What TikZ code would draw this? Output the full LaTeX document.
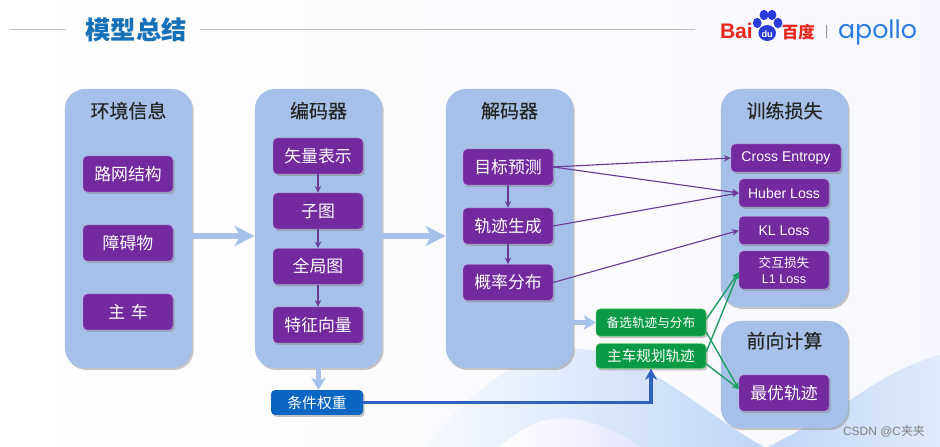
\documentclass[tikz,border=0pt]{standalone}
\usepackage{fontspec}
\setmainfont{Liberation Sans}
\newfontfamily\cjk{Noto Sans CJK SC}
\newfontfamily\cjkheavy[FakeBold=0.35]{Noto Sans CJK SC}
\newfontfamily\logofont{Poppins}
\usetikzlibrary{arrows.meta, positioning, calc, shadows}
\definecolor{panelblue}{HTML}{A6C1E9}
\definecolor{boxpurple}{HTML}{722A9E}
\definecolor{boxedge}{HTML}{C79AE0}
\definecolor{linepurple}{HTML}{6B3A96}
\definecolor{boxgreen}{HTML}{0A9A45}
\definecolor{linegreen}{HTML}{1F9E62}
\definecolor{boxblue}{HTML}{0A66C2}
\definecolor{lineblue}{HTML}{2F62BE}
\definecolor{titleblue}{HTML}{1470B8}
\definecolor{wavefill}{HTML}{C0D6F8}
\definecolor{logored}{HTML}{E8261C}
\definecolor{logoblue}{HTML}{2A3BD8}
\definecolor{apolloblue}{HTML}{2A7BE4}

\begin{document}
\begin{tikzpicture}[
    >=Stealth,
    % one unit is 40 pixels of the slide
    soft/.style={drop shadow={shadow xshift=0.04cm, shadow yshift=-0.05cm, opacity=0.45}},
    panel_node/.style={rectangle, rounded corners=0.5cm, fill=panelblue, soft, minimum width=3.18cm},
    panel_lbl/.style={font=\cjkheavy\fontsize{13.5}{15}\selectfont, text=black!85},
    p_node/.style={rectangle, rounded corners=0.1cm, draw=boxedge, line width=0.3pt, fill=boxpurple, soft, text=white, minimum width=2.25cm, minimum height=0.9cm, inner sep=0pt, align=center, font=\cjk\fontsize{12}{14}\selectfont},
    loss_node/.style={p_node, minimum height=0.7cm, font=\fontsize{10}{12}\selectfont},
    g_node/.style={rectangle, rounded corners=0.1cm, draw=green!70!black!60, line width=0.3pt, fill=boxgreen, soft, text=white, minimum width=2.75cm, inner sep=0pt},
    bigarrow/.style={-{Stealth[length=0.5cm, width=0.5cm, inset=0.14cm]}, line width=0.15cm, draw=panelblue},
    smallarrow/.style={-{Stealth[length=0.3cm, width=0.36cm, inset=0.08cm]}, line width=0.14cm, draw=panelblue},
    purplearrow/.style={-{Stealth[length=0.17cm, width=0.16cm]}, line width=0.8pt, draw=linepurple},
    greenarrow/.style={-{Stealth[length=0.17cm, width=0.16cm]}, line width=1pt, draw=linegreen}
]
    % --- Slide background ---
    \path[use as bounding box] (0,0) rectangle (23.5,11.175);
    \shade[left color=white, right color=blue!3!white] (0,0) rectangle (23.5,11.175);
    \shade[left color=wavefill!12!white, middle color=wavefill!75!white, right color=wavefill]
        (10.6,0) .. controls (11.6,1.2) and (13,2.5) .. (14.5,2.45)
        .. controls (16,2.4) and (17.5,0.9) .. (19.1,0) -- cycle;
    \shade[left color=white, right color=blue!10!white]
        (12.5,0) .. controls (13,0.45) and (13.5,0.72) .. (14,0.72)
        .. controls (14.8,0.72) and (15.5,0.35) .. (16,0) -- cycle;
    \shade[left color=wavefill, right color=wavefill!50!white]
        (19.2,0) .. controls (20,0.4) and (21,1) .. (21.6,1.4)
        .. controls (22.2,1.8) and (22.9,2.15) .. (23.5,2.3) -- (23.5,0) -- cycle;

    % --- Title row ---
    \node[font=\cjk\bfseries\fontsize{18}{20}\selectfont, text=titleblue] (title) at (3.4,10.43) {模型总结};
    \coordinate (ruleA) at (0.25,10.43);
    \coordinate (ruleB) at (1.65,10.43);
    \coordinate (ruleC) at (5.0,10.43);
    \coordinate (ruleD) at (17.38,10.43);
    \draw[black!25, line width=0.7pt] (ruleA) -- (ruleB);
    \draw[black!25, line width=0.7pt] (ruleC) -- (ruleD);

    % --- Logo ---
    \node[font=\bfseries\fontsize{15}{17}\selectfont, text=logored, inner sep=0pt] (bai) at (18.41,10.4) {Bai};
    \fill[logoblue] (19.18,10.35) ellipse (0.22 and 0.2);
    \foreach \px/\py in {18.93/10.6, 19.1/10.8, 19.3/10.8, 19.45/10.6}
        \fill[logoblue] (\px,\py) ellipse (0.11 and 0.13);
    \node[font=\bfseries\fontsize{6.5}{8}\selectfont, text=white, inner sep=0pt] (du) at (19.18,10.33) {du};
    \node[font=\cjk\bfseries\fontsize{11.7}{13}\selectfont, text=logored, inner sep=0pt] (baidu) at (19.96,10.37) {百度};
    \node[font=\fontsize{10}{12}\selectfont, text=black!40, inner sep=0pt] (bar) at (20.67,10.37) {|};
    \node[font=\logofont\fontsize{18}{20}\selectfont, text=apolloblue, inner sep=0pt] (apollo) at (21.94,10.37) {apollo};

    % --- Panels ---
    \node[panel_node, minimum height=6.975cm] (env) at (3.2125,5.4625) {};
    \node[panel_node, minimum height=6.975cm] (enc) at (7.9625,5.4625) {};
    \node[panel_node, minimum height=6.975cm] (dec) at (12.7375,5.4625) {};
    \node[panel_node, minimum height=5.45cm] (train) at (19.6125,6.225) {};
    \node[panel_node, minimum height=2.675cm] (fwd) at (19.6125,1.8125) {};
    \node[panel_lbl] (envT) at ($(env.north) + (0,-0.55)$) {环境信息};
    \node[panel_lbl] (encT) at ($(enc.north) + (0,-0.55)$) {编码器};
    \node[panel_lbl] (decT) at ($(dec.north) + (0,-0.55)$) {解码器};
    \node[panel_lbl] (trainT) at ($(train.north) + (0,-0.55)$) {训练损失};
    \node[panel_lbl] (fwdT) at ($(fwd.north) + (0,-0.5)$) {前向计算};

    % --- Environment column ---
    \node[p_node] (road) at (3.2,6.825) {路网结构};
    \node[p_node] (obst) at (3.2,5.1) {障碍物};
    \node[p_node] (ego) at (3.2,3.375) {主\,\,车};

    % --- Encoder column ---
    \node[p_node] (vec) at (7.95,7.275) {矢量表示};
    \node[p_node] (sub) at (7.95,5.9) {子图};
    \node[p_node] (glob) at (7.95,4.5125) {全局图};
    \node[p_node] (feat) at (7.95,3.05) {特征向量};

    % --- Decoder column ---
    \node[p_node] (goal) at (12.7,7.0) {目标预测};
    \node[p_node] (traj) at (12.7,5.525) {轨迹生成};
    \node[p_node] (prob) at (12.7,4.1125) {概率分布};

    % --- Loss column ---
    \node[loss_node, minimum width=2.75cm] (ce) at (19.65,7.225) {Cross Entropy};
    \node[loss_node] (huber) at (19.6,6.35) {Huber Loss};
    \node[loss_node] (kl) at (19.6,5.4125) {KL Loss};
    \node[loss_node, minimum height=0.95cm, font=\fontsize{9}{11}\selectfont] (cross) at (19.6,4.425) {{\cjk 交互损失}\\L1 Loss};
    \node[p_node] (best) at (19.6,1.35) {最优轨迹};

    % --- Green and blue boxes ---
    \node[g_node, minimum height=0.68cm, font=\cjk\fontsize{9}{11}\selectfont] (cand) at (16.275,3.1125) {备选轨迹与分布};
    \node[g_node, minimum height=0.62cm, font=\cjk\fontsize{10.4}{12}\selectfont] (plan) at (16.275,2.275) {主车规划轨迹};
    \node[rectangle, rounded corners=0.1cm, fill=boxblue, soft, text=white, minimum width=2.3cm, minimum height=0.62cm, inner sep=0pt, font=\cjk\fontsize{10.5}{12}\selectfont] (weight) at (7.925,1.1125) {条件权重};

    % --- Wide flows between panels ---
    \coordinate (flow) at (0,5.275);
    \draw[bigarrow] (env.east |- flow) -- (enc.west |- flow);
    \draw[bigarrow] (enc.east |- flow) -- (dec.west |- flow);
    \draw[smallarrow] (dec.east |- cand) -- (cand.west);
    \draw[smallarrow] (enc.south) -- (weight.north -| enc.south);

    % --- Inner column flows ---
    \draw[purplearrow] (vec) -- (sub);
    \draw[purplearrow] (sub) -- (glob);
    \draw[purplearrow] (glob) -- (feat);
    \draw[purplearrow] (goal) -- (traj);
    \draw[purplearrow] (traj) -- (prob);

    % --- Losses ---
    \draw[purplearrow] (goal.east) -- (ce.west);
    \draw[purplearrow] (goal.east) -- (huber.west);
    \draw[purplearrow] (traj.east) -- (huber.west);
    \draw[purplearrow] (prob.east) -- (kl.west);
    \draw[greenarrow] ($(cand.east) + (0,0.08)$) -- ($(cross.west) + (0,-0.05)$);
    \draw[greenarrow] ($(cand.east) + (0,-0.24)$) -- ($(best.west) + (0,0.1)$);
    \draw[greenarrow] ($(plan.east) + (0,0.1)$) -- ($(cross.west) + (0,-0.05)$);
    \draw[greenarrow] ($(plan.east) + (0,-0.2)$) -- ($(best.west) + (0,0.1)$);

    % --- Weight into planned trajectory ---
    \draw[-{Stealth[length=0.28cm, width=0.3cm]}, line width=0.08cm, draw=lineblue] (weight.east) -| (plan.south);

    % --- Watermark ---
    \node[font=\fontsize{8.5}{10}\selectfont, text=black!50, inner sep=0pt] (mark) at (22.1,0.4) {CSDN @C{\cjk 夹夹}};
\end{tikzpicture}
\end{document}
